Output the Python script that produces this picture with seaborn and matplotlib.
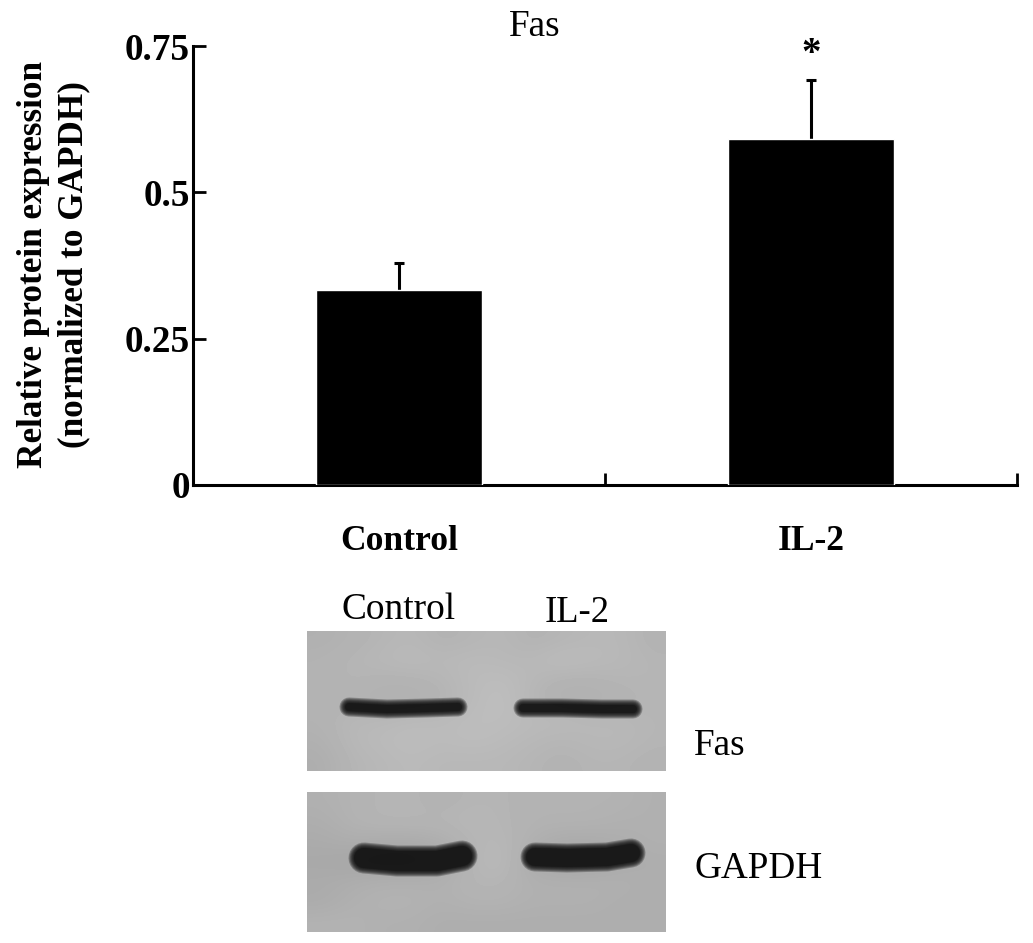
import numpy as np
import seaborn as sns
import matplotlib
matplotlib.use('Agg')
import matplotlib.pyplot as plt

groups = ['Control', 'IL-2']
expression = [0.333, 0.591]
errors = [0.047, 0.101]
yticks = [0, 0.25, 0.5, 0.75]
ytick_labels = ['0', '0.25', '0.5', '0.75']
ylabel = 'Relative protein expression\n(normalized to GAPDH)'

fas_bg = [[.69, .70, .71, .72, .70, .71, .72, .70, .71, .72, .72, .70],
          [.70, .71, .72, .73, .72, .73, .72, .72, .74, .73, .72, .71],
          [.70, .71, .70, .70, .71, .73, .74, .72, .70, .70, .71, .71],
          [.70, .70, .69, .69, .70, .73, .75, .71, .69, .69, .70, .71],
          [.70, .72, .72, .73, .73, .74, .74, .73, .73, .72, .72, .71],
          [.69, .72, .73, .74, .73, .74, .73, .72, .71, .72, .72, .71],
          [.68, .71, .72, .73, .72, .72, .72, .71, .70, .71, .71, .70]]
gapdh_bg = [[.69, .70, .71, .71, .70, .71, .71, .70, .70, .70, .70, .69],
            [.68, .70, .71, .71, .71, .72, .71, .70, .70, .70, .69, .69],
            [.67, .68, .67, .67, .68, .71, .72, .69, .67, .67, .68, .69],
            [.66, .65, .64, .64, .66, .71, .73, .67, .65, .65, .67, .68],
            [.67, .68, .69, .69, .69, .71, .71, .69, .69, .69, .69, .68],
            [.67, .69, .70, .70, .69, .70, .70, .69, .69, .69, .68, .68],
            [.70, .70, .69, .69, .68, .68, .68, .68, .68, .68, .68, .68]]

# bands in pixels inside each 359 x 140 panel: x, y of centre line, thickness
fas_x = [[42, 80, 120, 151], [216, 255, 295, 326]]
fas_y = [[76, 78, 77, 76], [77, 77, 78, 78]]
fas_h = [8, 8]
gapdh_x = [[57, 90, 130, 155], [228, 260, 300, 324]]
gapdh_y = [[66, 69, 69, 64], [65, 66, 65, 61]]
gapdh_h = [20, 18]

sns.set_theme(style='white')
plt.rcParams['font.family'] = ['Liberation Serif', 'DejaVu Serif']

W, H = 1033, 943
fig = plt.figure(figsize=(W / 100, H / 100), dpi=100)
ax = fig.add_axes([193 / W, 1 - 485 / H, 824 / W, 439 / H])

sns.barplot(x=groups, y=expression, color='black', saturation=1, width=0.405, ax=ax, zorder=3)
eb = ax.errorbar(range(len(groups)), expression, yerr=[[0, 0], errors], fmt='none',
                 ecolor='black', elinewidth=2.2, capsize=3.6, capthick=2.2, zorder=2)
eb[1][0].set_visible(False)
ax.text(1, errors[1] + expression[1] + 0.012, '*', ha='center', va='bottom',
        fontsize=28, fontweight='bold', color='black')

ax.set_xlim(-0.5, 1.5)
ax.set_ylim(0, 0.75)
ax.set_yticks(yticks)
ax.set_yticklabels(ytick_labels, fontsize=26.8, fontweight='bold', color='black')
ax.set_xticks([0, 1])
ax.set_xticklabels(groups, fontsize=25.6, fontweight='bold', color='black')
ax.set_xticks([0.5, 1.5], minor=True)
ax.tick_params(axis='x', which='major', length=0, pad=29)
ax.tick_params(axis='x', which='minor', direction='in', length=9, width=2, color='black', bottom=True)
ax.tick_params(axis='y', direction='in', length=9, width=2, color='black', left=True, pad=2)
ax.set_ylabel(ylabel, fontsize=25.3, fontweight='bold', color='black', linespacing=1.27)
ax.yaxis.set_label_coords(-0.125, 0.503)
sns.despine(ax=ax)
for s in ['left', 'bottom']:
    ax.spines[s].set_linewidth(2.2)
    ax.spines[s].set_color('black')

fig.text(535 / W, 1 - 27 / H, 'Fas', ha='center', va='center', fontsize=26.8, color='black')


def draw_blot(top, bg, band_x, band_y, band_h):
    a = fig.add_axes([307 / W, 1 - (top + 140) / H, 359 / W, 140 / H])
    a.imshow(bg, cmap='gray', vmin=0, vmax=1, aspect='auto', interpolation='bicubic',
             extent=[0, 359, 140, 0])
    for xs, ys, h in zip(band_x, band_y, band_h):
        # stack of lines narrowing inwards, for the soft edge of a band
        for grow in [11, 9, 7, 5, 3, 1, 0]:
            a.plot(xs, ys, color='#0a0a0a', alpha=0.28, lw=(h + grow) * 0.72,
                   solid_capstyle='round', solid_joinstyle='round')
    a.set_xlim(0, 359)
    a.set_ylim(140, 0)
    a.axis('off')


draw_blot(631, fas_bg, fas_x, fas_y, fas_h)
draw_blot(792, gapdh_bg, gapdh_x, gapdh_y, gapdh_h)

fig.text(399 / W, 1 - 610 / H, 'Control', ha='center', va='center', fontsize=26.9, color='black')
fig.text(577 / W, 1 - 613 / H, 'IL-2', ha='center', va='center', fontsize=26.4, color='black')
fig.text(694 / W, 1 - 746 / H, 'Fas', ha='left', va='center', fontsize=26.8, color='black')
fig.text(694 / W, 1 - 869 / H, 'GAPDH', ha='left', va='center', fontsize=26.8, color='black')

fig.savefig('out.png', dpi=100)
